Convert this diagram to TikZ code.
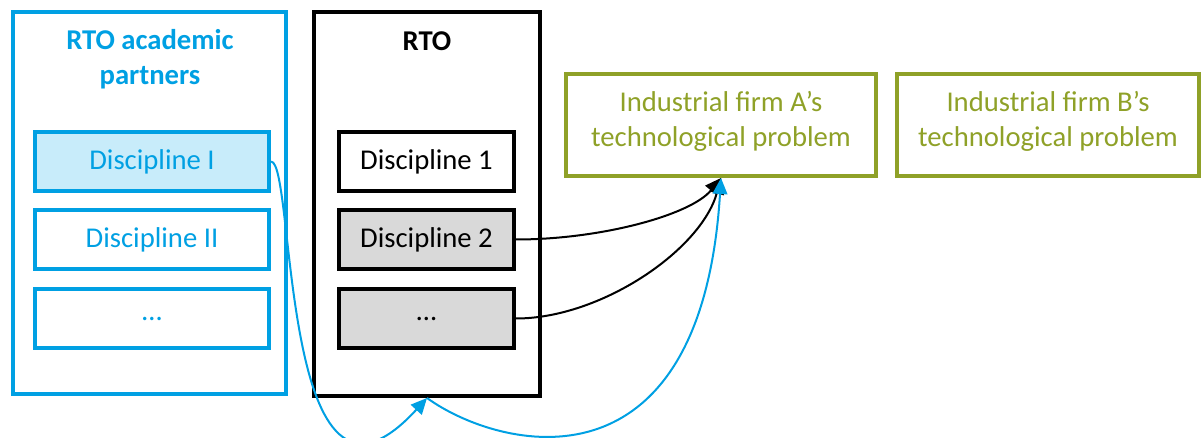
\documentclass[tikz,border=0pt]{standalone}
\usepackage{fontspec}
\setmainfont{Carlito}
\usepackage{xcolor}
\usetikzlibrary{positioning,arrows.meta}

\definecolor{rtoblue}{RGB}{0,160,227}
\definecolor{lightblue}{RGB}{200,236,250}
\definecolor{firmgreen}{RGB}{143,161,40}
\definecolor{boxgrey}{RGB}{217,217,217}

\begin{document}
\fontsize{21.5}{26}\selectfont
\begin{tikzpicture}[x=0.75pt, y=-0.75pt,
	box/.style={rectangle, draw, line width=3pt, inner sep=0, align=center},
	link/.style={line width=1.5pt, -{Triangle[length=12pt, width=11pt]}}]
\useasboundingbox (0,0) rectangle (1203,438);
% the two columns
\node[box, rtoblue, minimum width=204.75pt, minimum height=286.5pt] at(149.5,203) (partners) {};
\node[box, minimum width=169.5pt, minimum height=288pt] at(427,204) (rto) {};
\node[rtoblue, font=\bfseries, align=center] at(150,59) (ptitle) {RTO academic\\partners};
\node[font=\bfseries] at(427,41) (rtitle) {RTO};
\foreach \n/\y/\t/\f in {1/161.5/{Discipline I}/lightblue, 2/239.5/{Discipline II}/white, 3/318.5/{\dots}/white} {
	\node[box, rtoblue, fill=\f, minimum width=175.5pt, minimum height=44.25pt] at(152,\y) (p\n) {\t};
};
\foreach \n/\y/\t/\f in {1/161.5/{Discipline 1}/white, 2/239.5/{Discipline 2}/boxgrey, 3/318.5/{\dots}/boxgrey} {
	\node[box, fill=\f, minimum width=131.25pt, minimum height=44.25pt] at(426.5,\y) (d\n) {\t};
};
% firms
\node[box, firmgreen, minimum width=232.5pt, minimum height=76.5pt, text depth=9pt] at(721,125) (firma) {Industrial firm A’s\\technological problem};
\node[box, firmgreen, minimum width=226.5pt, minimum height=76.5pt, text depth=9pt] at(1048,125) (firmb) {Industrial firm B’s\\technological problem};
\draw[link] (d2.east) .. controls +(85,0) and +(-30,37) .. (firma.south);
\draw[link] (d3.east) .. controls +(85,0) and +(-20,72) .. (firma.south);
\draw[link, rtoblue] (p1.east) .. controls +(25,0) and +(-148,162) .. (rto.south);
\draw[link, rtoblue] (rto.south) .. controls +(72,52) and +(-20,322) .. (firma.south);
\end{tikzpicture}
\end{document}
